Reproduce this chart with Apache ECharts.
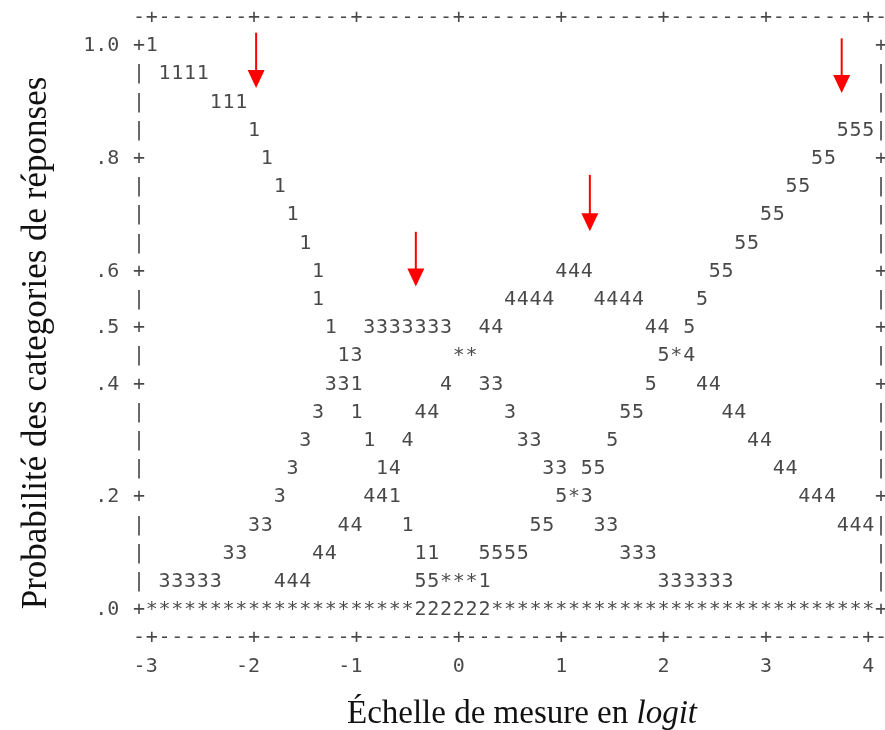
<!DOCTYPE html>
<html>
<head>
<meta charset="utf-8">
<script src="https://cdn.jsdelivr.net/npm/echarts@6.0.0/dist/echarts.min.js"></script>
<style>
html,body{margin:0;padding:0;background:#fff;}
#chart{width:885px;height:730px;}
</style>
</head>
<body>
<div id="chart"></div>
<script>
// ---- Data (logit, probability) ----
const categoryLabels = ['1', '2', '3', '4', '5'];

const cat1 = [
  [-3,1.00],
  [-2.875,.95],[-2.75,.95],[-2.625,.95],[-2.5,.95],
  [-2.375,.90],[-2.25,.90],[-2.125,.90],
  [-2,.85],[-1.875,.80],[-1.75,.75],[-1.625,.70],[-1.5,.65],
  [-1.375,.60],[-1.375,.55],[-1.25,.50],[-1.125,.45],[-1,.40],[-1,.35],
  [-0.875,.30],[-0.75,.25],[-0.625,.20],[-0.5,.15],[-0.375,.10],[-0.25,.10],
  [-0.125,.05],[0,.05],[0.125,.05],[0.25,.05],
  [0.375,0],[0.5,0],[0.625,0],[0.75,0],[0.875,0],[1,0],[1.125,0],[1.25,0],[1.375,0],[1.5,0],
  [1.625,0],[1.75,0],[1.875,0],[2,0],[2.125,0],[2.25,0],[2.375,0],[2.5,0],[2.625,0],[2.75,0],
  [2.875,0],[3,0],[3.125,0],[3.25,0],[3.375,0],[3.5,0],[3.625,0],[3.75,0],[3.875,0],[4,0]
];

const cat2 = [
  [-3,0],[-2.875,0],[-2.75,0],[-2.625,0],[-2.5,0],[-2.375,0],[-2.25,0],[-2.125,0],
  [-2,0],[-1.875,0],[-1.75,0],[-1.625,0],[-1.5,0],[-1.375,0],[-1.25,0],[-1.125,0],
  [-1,0],[-0.875,0],[-0.75,0],[-0.625,0],[-0.5,0],[-0.375,0],[-0.25,0],[-0.125,0],
  [0,0],[0.125,0],[0.25,0],[0.375,0],[0.5,0],[0.625,0],[0.75,0],[0.875,0],
  [1,0],[1.125,0],[1.25,0],[1.375,0],[1.5,0],[1.625,0],[1.75,0],[1.875,0],
  [2,0],[2.125,0],[2.25,0],[2.375,0],[2.5,0],[2.625,0],[2.75,0],[2.875,0],
  [3,0],[3.125,0],[3.25,0],[3.375,0],[3.5,0],[3.625,0],[3.75,0],[3.875,0],[4,0]
];

const cat3 = [
  [-3,0],
  [-2.875,.05],[-2.75,.05],[-2.625,.05],[-2.5,.05],[-2.375,.05],
  [-2.25,.10],[-2.125,.10],
  [-2,.15],[-1.875,.15],
  [-1.75,.20],[-1.625,.25],[-1.5,.30],[-1.375,.35],
  [-1.25,.40],[-1.125,.40],
  [-1,.45],
  [-0.875,.50],[-0.75,.50],[-0.625,.50],[-0.5,.50],[-0.375,.50],[-0.25,.50],[-0.125,.50],
  [0,.45],[0.125,.45],
  [0.25,.40],[0.375,.40],
  [0.5,.35],
  [0.625,.30],[0.75,.30],
  [0.875,.25],[1,.25],
  [1.125,.20],[1.25,.20],
  [1.375,.15],[1.5,.15],
  [1.625,.10],[1.75,.10],[1.875,.10],
  [2,.05],[2.125,.05],[2.25,.05],[2.375,.05],[2.5,.05],[2.625,.05],
  [2.75,0],[2.875,0],[3,0],[3.125,0],[3.25,0],[3.375,0],[3.5,0],[3.625,0],[3.75,0],[3.875,0],[4,0]
];

const cat4 = [
  [-3,0],[-2.875,0],[-2.75,0],[-2.625,0],[-2.5,0],[-2.375,0],[-2.25,0],[-2.125,0],[-2,0],[-1.875,0],
  [-1.75,.05],[-1.625,.05],[-1.5,.05],
  [-1.375,.10],[-1.25,.10],
  [-1.125,.15],[-1,.15],
  [-0.875,.20],[-0.75,.20],
  [-0.625,.25],
  [-0.5,.30],
  [-0.375,.35],[-0.25,.35],
  [-0.125,.40],
  [0,.45],[0.125,.45],
  [0.25,.50],[0.375,.50],
  [0.5,.55],[0.625,.55],[0.75,.55],[0.875,.55],
  [1,.60],[1.125,.60],[1.25,.60],
  [1.375,.55],[1.5,.55],[1.625,.55],[1.75,.55],
  [1.875,.50],[2,.50],
  [2.125,.45],[2.25,.45],
  [2.375,.40],[2.5,.40],
  [2.625,.35],[2.75,.35],
  [2.875,.30],[3,.30],
  [3.125,.25],[3.25,.25],
  [3.375,.20],[3.5,.20],[3.625,.20],
  [3.75,.15],[3.875,.15],[4,.15]
];

const cat5 = [
  [-3,0],[-2.875,0],[-2.75,0],[-2.625,0],[-2.5,0],[-2.375,0],[-2.25,0],[-2.125,0],
  [-2,0],[-1.875,0],[-1.75,0],[-1.625,0],[-1.5,0],[-1.375,0],[-1.25,0],[-1.125,0],
  [-1,0],[-0.875,0],[-0.75,0],[-0.625,0],[-0.5,0],
  [-0.375,.05],[-0.25,.05],[-0.125,.05],[0,.05],[0.125,.05],
  [0.25,.10],[0.375,.10],[0.5,.10],[0.625,.10],
  [0.75,.15],[0.875,.15],
  [1,.20],[1.125,.20],
  [1.25,.25],[1.375,.25],
  [1.5,.30],
  [1.625,.35],[1.75,.35],
  [1.875,.40],
  [2,.45],[2.125,.45],
  [2.25,.50],
  [2.375,.55],
  [2.5,.60],[2.625,.60],
  [2.75,.65],[2.875,.65],
  [3,.70],[3.125,.70],
  [3.25,.75],[3.375,.75],
  [3.5,.80],[3.625,.80],
  [3.75,.85],[3.875,.85],[4,.85]
];

const xTickValues = [-3, -2, -1, 0, 1, 2, 3, 4];
const xTickLabels = ['-3', '-2', '-1', '0', '1', '2', '3', '4'];
const yTickValues = [1.0, 0.8, 0.6, 0.5, 0.4, 0.2, 0.0];
const yTickLabels = ['1.0', '.8', '.6', '.5', '.4', '.2', '.0'];

// Red arrows (logit position, top probability, tip probability)
const arrowLogit = [-1.98, -0.42, 1.28, 3.74];
const arrowTop   = [1.02, 0.667, 0.768, 1.01];
const arrowTip   = [0.922, 0.570, 0.668, 0.913];

// ---- Plot resolution (character grid of the text plot) ----
const COL_STEP = 0.125;   // 8 columns per logit
const ROW_STEP = 0.05;    // probability per text row
const MONO = '"DejaVu Sans Mono", "Liberation Mono", monospace';
const SERIF = '"Liberation Serif", "Times New Roman", serif';
const TEXT_COLOR = '#1a1a1a';
const FONT_SIZE = 20;

const categories = [cat1, cat2, cat3, cat4, cat5];
const cellKey = (x, p) => Math.round(x / COL_STEP) + ':' + Math.round(p / ROW_STEP);

// Occupancy: when two categories share a cell, draw '*'
const occ = {};
categories.forEach((pts, k) => {
  pts.forEach(([x, p]) => {
    const key = cellKey(x, p);
    (occ[key] = occ[key] || []).push(k);
  });
});

function charLabel() {
  return {
    show: true,
    position: 'inside',
    offset: [0, 2],
    formatter: (pr) => pr.name,
    fontFamily: MONO,
    fontSize: FONT_SIZE,
    color: TEXT_COLOR
  };
}

const series = categories.map((pts, k) => ({
  name: 'Catégorie ' + categoryLabels[k],
  type: 'scatter',
  silent: true,
  symbolSize: 1,
  itemStyle: { color: 'transparent' },
  label: charLabel(),
  data: pts
    .filter(([x, p]) => occ[cellKey(x, p)][0] === k)
    .map(([x, p]) => ({
      name: occ[cellKey(x, p)].length > 1 ? '*' : categoryLabels[k],
      value: [x, p]
    }))
}));

// ---- Text frame (border of the text plot) ----
const xMin = xTickValues[0], xMax = xTickValues[xTickValues.length - 1];
const frame = [];
const nCols = Math.round((xMax - xMin) / COL_STEP);
for (let c = -1; c <= nCols + 1; c++) {
  const x = xMin + c * COL_STEP;
  const isTick = xTickValues.some(t => Math.abs(t - x) < 1e-9);
  const ch = isTick ? '+' : '-';
  frame.push({ name: ch, value: [x, 1 + ROW_STEP] });
  frame.push({ name: ch, value: [x, -ROW_STEP] });
}
const nRows = Math.round(1 / ROW_STEP);
for (let r = 0; r <= nRows; r++) {
  const p = r * ROW_STEP;
  const isTick = yTickValues.some(t => Math.abs(t - p) < 1e-9);
  const ch = isTick ? '+' : '|';
  frame.push({ name: ch, value: [xMin - COL_STEP, p] });
  frame.push({ name: ch, value: [xMax + COL_STEP, p] });
}
series.push({
  name: 'frame',
  type: 'scatter',
  silent: true,
  symbolSize: 1,
  itemStyle: { color: 'transparent' },
  label: charLabel(),
  data: frame
});

// x tick labels (right-aligned on tick column)
series.push({
  name: 'xticks',
  type: 'scatter',
  silent: true,
  symbolSize: 1,
  itemStyle: { color: 'transparent' },
  label: Object.assign(charLabel(), { align: 'right', offset: [6, 2] }),
  data: xTickValues.map((t, i) => ({ name: xTickLabels[i], value: [t, -2 * ROW_STEP] }))
});

// y tick labels (right-aligned two columns left of the frame)
series.push({
  name: 'yticks',
  type: 'scatter',
  silent: true,
  symbolSize: 1,
  itemStyle: { color: 'transparent' },
  label: Object.assign(charLabel(), { align: 'right', offset: [-19.6, 2] }),
  data: yTickValues.map((t, i) => ({ name: yTickLabels[i], value: [xMin - COL_STEP, t] }))
});

// arrows
series.push({
  name: 'arrows',
  type: 'custom',
  silent: true,
  renderItem: (params, api) => {
    const x = api.value(0);
    const top = api.coord([x, api.value(1)]);
    const tip = api.coord([x, api.value(2)]);
    const headH = 18, headW = 17;
    return {
      type: 'group',
      children: [
        { type: 'line', shape: { x1: top[0], y1: top[1], x2: tip[0], y2: tip[1] - headH + 2 },
          style: { stroke: '#ff0000', lineWidth: 2 } },
        { type: 'polygon', shape: { points: [[tip[0] - headW / 2, tip[1] - headH], [tip[0] + headW / 2, tip[1] - headH], [tip[0], tip[1]]] },
          style: { fill: '#ff0000' } }
      ]
    };
  },
  data: arrowLogit.map((x, i) => [x, arrowTop[i], arrowTip[i]])
});

const chart = echarts.init(document.getElementById('chart'), null, { renderer: 'canvas' });
chart.setOption({
  backgroundColor: '#ffffff',
  animation: false,
  grid: {
    left: 138.9, right: 3.9, top: 15.8, bottom: 65.6,
    containLabel: false, outerBoundsMode: 'none'
  },
  xAxis: {
    type: 'value',
    min: xMin - COL_STEP, max: xMax + COL_STEP,
    show: false
  },
  yAxis: {
    type: 'value',
    min: -2 * ROW_STEP, max: 1 + ROW_STEP, interval: ROW_STEP,
    show: false
  },
  graphic: [
    {
      type: 'text', x: 522, y: 714,
      style: {
        text: 'Échelle de mesure en {i|logit}',
        align: 'center', verticalAlign: 'middle',
        fontFamily: SERIF, fontSize: 33, fill: '#111111',
        rich: { i: { fontStyle: 'italic', fontFamily: SERIF, fontSize: 33, fill: '#111111' } }
      }
    },
    {
      type: 'text', x: 37, y: 343, rotation: Math.PI / 2,
      style: {
        text: 'Probabilité des categories de réponses',
        align: 'center', verticalAlign: 'middle',
        fontFamily: SERIF, fontSize: 35, fill: '#111111'
      }
    }
  ],
  series: series
});
</script>
</body>
</html>
